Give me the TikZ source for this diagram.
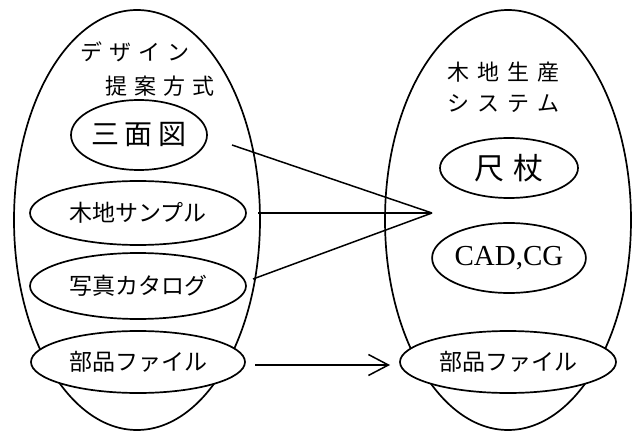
\documentclass[tikz,border=0pt]{standalone}
\usepackage{fontspec}
\setmainfont{Liberation Serif}
\newfontfamily\jp{Noto Sans CJK JP}
\usetikzlibrary{shapes.geometric,arrows.meta}
\tikzset{
  big/.style={ellipse, draw, line width=1.7pt, inner sep=0pt, minimum width=246pt, minimum height=420pt},
  item/.style={ellipse, draw, fill=white, line width=1.7pt, inner sep=0pt, font=\jp\fontsize{23}{23}\selectfont},
  title/.style={anchor=west, inner sep=0pt, font=\jp\fontsize{22}{22}\selectfont},
  link/.style={line width=1.5pt},
}
\begin{document}
\begin{tikzpicture}[x=1pt,y=-1pt]
\useasboundingbox (0,0) rectangle (640,433);
\fill[white] (0,0) rectangle (640,433);
% big ellipses
\node[big] (L) at (137,220) {};
\node[big] (R) at (508,220) {};
% titles
\node[title] (t1) at (80,52) {デ\hspace{7pt}ザ\hspace{7pt}イ\hspace{7pt}ン};
\node[title] (t2) at (105,86) {提\hspace{7pt}案\hspace{7pt}方\hspace{7pt}式};
\node[title] (t3) at (447,72) {木\hspace{8pt}地\hspace{8pt}生\hspace{8pt}産};
\node[title] (t4) at (447,104) {シ\hspace{8pt}ス\hspace{8pt}テ\hspace{8pt}ム};
% left items
\node[item, minimum width=136pt, minimum height=70pt, font=\jp\fontsize{28}{28}\selectfont] (sanmen) at (139,135) {三\hspace{6pt}面\hspace{6pt}図};
\node[item, minimum width=216pt, minimum height=64pt] (kiji) at (138,213) {木地サンプル};
\node[item, minimum width=216pt, minimum height=66pt] (shashin) at (138,286) {写真カタログ};
\node[item, minimum width=214pt, minimum height=62pt] (buhinL) at (138,362) {部品ファイル};
% right items
\node[item, minimum width=138pt, minimum height=60pt, font=\jp\fontsize{30}{30}\selectfont] (shaku) at (509,168) {尺\hspace{10pt}杖};
\node[item, minimum width=138pt, minimum height=70pt, font=\fontsize{29}{29}\selectfont] (cad) at (509,258) {CAD,CG};
\node[item, minimum width=216pt, minimum height=62pt] (buhinR) at (508,362) {部品ファイル};
% connectors
\coordinate (hub) at (432,213);
\coordinate (s1) at (232,145);
\coordinate (s2) at (258,213);
\coordinate (s3) at (253,279);
\coordinate (a1) at (255,365);
\coordinate (a2) at (390,365);
\draw[link] (s1) -- (hub);
\draw[link] (s2) -- (hub);
\draw[link] (s3) -- (hub);
\draw[link, -{Straight Barb[length=20pt,width=21pt,line width=1.5pt]}] (a1) -- (a2);
\end{tikzpicture}
\end{document}
